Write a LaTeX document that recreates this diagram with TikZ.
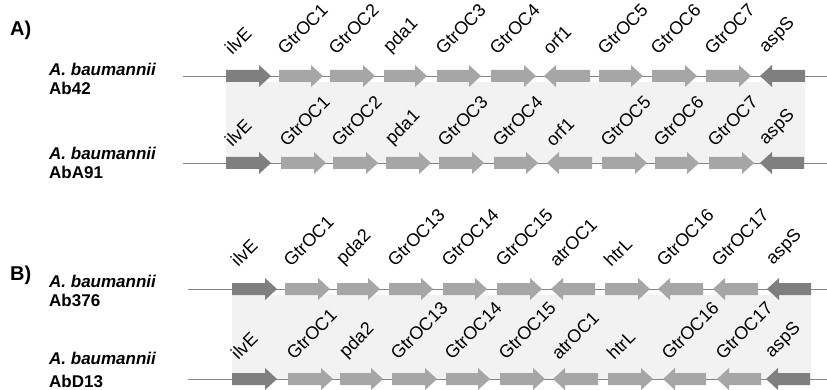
\documentclass[tikz,border=0pt]{standalone}
\usepackage{fontspec}
\usepackage{graphicx}
\setmainfont{Liberation Sans}
\definecolor{darkgene}{HTML}{7F7F7F}
\definecolor{lightgene}{HTML}{A6A6A6}
\definecolor{shadefill}{HTML}{F2F2F2}
\definecolor{axisgray}{HTML}{858585}
\tikzset{
  genelabel/.style={anchor=south west, inner sep=0pt, font=\fontsize{18}{20}\selectfont},
  strain/.style={anchor=west, inner sep=0pt, align=left, font=\bfseries\fontsize{17}{19}\selectfont},
  panel/.style={anchor=west, inner sep=0pt, font=\bfseries\fontsize{20}{22}\selectfont},
  backbone/.style={draw=axisgray, line width=0.9pt},
  shadebox/.style={fill=shadefill, draw=none},
}
% tail tip y sign colour
\newcommand\gene[5]{%
  \fill[#5] (#1,#3-6) -- ({#2-12*(#4)},#3-6) -- ({#2-12*(#4)},#3-11) -- (#2,#3)
    -- ({#2-12*(#4)},#3+11) -- ({#2-12*(#4)},#3+6) -- (#1,#3+6) -- cycle;}
% row: prefix y labeloffset list
\newcommand\generow[4]{%
  \foreach \nm/\ta/\tb/\sg/\cl [count=\i] in {#4} {%
    \gene{\ta}{\tb}{#2}{\sg}{\cl}
    \pgfmathsetmacro\lx{min(\ta,\tb)-3}
    \node[genelabel] (#1-\i) at (\lx,#2-#3) {\rotatebox{45}{\nm}};
  }}
\begin{document}
\begin{tikzpicture}[x=1pt,y=-1pt]
\useasboundingbox (0,0) rectangle (827,390);
% ---------------- Panel A ----------------
\node[panel] (pA) at (10,30) {A)};
\fill[shadebox] (226,82) rectangle (805,163);
\coordinate (a1s) at (183,76); \coordinate (a1e) at (827,76);
\coordinate (a2s) at (183,163); \coordinate (a2e) at (827,163);
\draw[backbone] (a1s) -- (a1e);
\draw[backbone] (a2s) -- (a2e);
\node[strain] (sA1) at (49,79) {\textit{A. baumannii}\\Ab42};
\node[strain] (sA2) at (49,163) {\textit{A. baumannii}\\AbA91};
\generow{a1}{76}{20}{ilvE/226/271/1/darkgene, GtrOC1/279/323/1/lightgene, GtrOC2/330/375/1/lightgene,
  pda1/384/427/1/lightgene, GtrOC3/437/481/1/lightgene, GtrOC4/491/536/1/lightgene,
  orf1/590/544/-1/lightgene, GtrOC5/599/643/1/lightgene, GtrOC6/652/697/1/lightgene,
  GtrOC7/706/751/1/lightgene, aspS/805/760/-1/darkgene}
\generow{a2}{163}{15}{ilvE/226/271/1/darkgene, GtrOC1/281/326/1/lightgene, GtrOC2/333/378/1/lightgene,
  pda1/386/431/1/lightgene, GtrOC3/439/484/1/lightgene, GtrOC4/494/538/1/lightgene,
  orf1/592/547/-1/lightgene, GtrOC5/602/647/1/lightgene, GtrOC6/655/699/1/lightgene,
  GtrOC7/709/754/1/lightgene, aspS/804/760/-1/darkgene}
% ---------------- Panel B ----------------
\node[panel] (pB) at (10,275) {B)};
\fill[shadebox] (232,295) rectangle (811,379);
\coordinate (b1s) at (188,289); \coordinate (b1e) at (827,289);
\coordinate (b2s) at (188,379); \coordinate (b2e) at (827,379);
\draw[backbone] (b1s) -- (b1e);
\draw[backbone] (b2s) -- (b2e);
\node[strain] (sB1) at (49,291) {\textit{A. baumannii}\\Ab376};
\node[strain] (sB2) at (49,370) {\textit{A. baumannii}\\[4pt]AbD13};
\generow{b1}{289}{21}{ilvE/232/277/1/darkgene, GtrOC1/285/330/1/lightgene, pda2/337/380/1/lightgene,
  GtrOC13/389/433/1/lightgene, GtrOC14/443/487/1/lightgene, GtrOC15/497/542/1/lightgene,
  atrOC1/595/551/-1/lightgene, htrL/605/650/1/lightgene, GtrOC16/703/658/-1/lightgene,
  GtrOC17/758/713/-1/lightgene, aspS/811/767/-1/darkgene}
\generow{b2}{379}{18}{ilvE/232/277/1/darkgene, GtrOC1/288/333/1/lightgene, pda2/340/383/1/lightgene,
  GtrOC13/392/437/1/lightgene, GtrOC14/446/490/1/lightgene, GtrOC15/500/545/1/lightgene,
  atrOC1/598/553/-1/lightgene, htrL/608/653/1/lightgene, GtrOC16/706/663/-1/lightgene,
  GtrOC17/761/717/-1/lightgene, aspS/810/766/-1/darkgene}
\end{tikzpicture}
\end{document}
